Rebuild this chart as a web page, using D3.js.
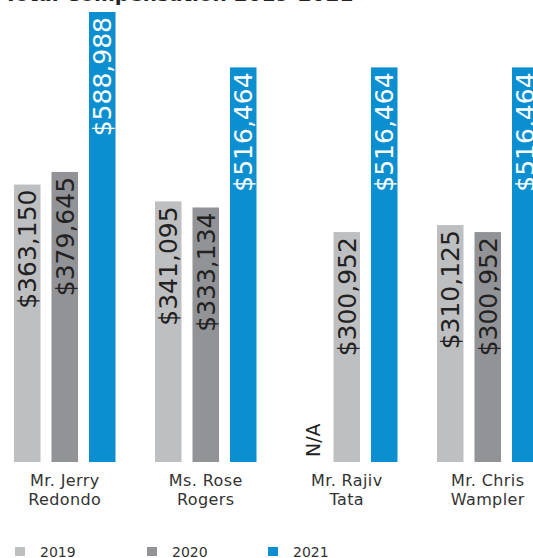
<!DOCTYPE html>
<html>
<head>
<meta charset="utf-8">
<script src="https://cdn.jsdelivr.net/npm/d3@7"></script>
<style>
  html, body { margin: 0; padding: 0; background: #ffffff; }
  svg { display: block; }
</style>
</head>
<body>
<svg id="chart" width="533" height="558"></svg>
<script>
// ---- data ----
const title = "Total Compensation 2019-2021";
const categories = ["Mr. Jerry Redondo", "Ms. Rose Rogers", "Mr. Rajiv Tata", "Mr. Chris Wampler"];
const categoryLines = [["Mr. Jerry", "Redondo"], ["Ms. Rose", "Rogers"], ["Mr. Rajiv", "Tata"], ["Mr. Chris", "Wampler"]];
const years = ["2019", "2020", "2021"];
const values2019 = [363150, 341095, null, 310125];
const values2020 = [379645, 333134, 300952, 300952];
const values2021 = [588988, 516464, 516464, 516464];
const missingLabel = "N/A";

// ---- layout ----
const svg = d3.select("#chart");
const baseY = 462, topY = 12;
const font = "'DejaVu Sans', Verdana, sans-serif";
const colors = { "2019": "#bebfc1", "2020": "#929396", "2021": "#0b8fd0" };

const series = [values2019, values2020, values2021];
const rows = categories.map((c, i) => ({
  cat: c, lines: categoryLines[i],
  bars: years.map((y, j) => ({ year: y, value: series[j][i], cat: c, prevMissing: j > 0 && series[j - 1][i] == null }))
}));

const x0 = d3.scaleBand().domain(categories).range([14, 538.5]).paddingInner(0.28).paddingOuter(0);
const x1 = d3.scaleBand().domain(years).range([0, x0.bandwidth()]).paddingInner(0.293).paddingOuter(0);
const maxV = d3.max(series.flat());
const y = d3.scaleLinear().domain([0, maxV]).range([baseY, topY]);

const fmt = v => "$" + d3.format(",")(v);

// title (cropped at top of the frame)
svg.append("text")
  .attr("x", 4).attr("y", 1)
  .attr("font-family", font).attr("font-weight", "bold").attr("font-size", 20)
  .attr("fill", "#222").text(title);

const g = svg.selectAll("g.grp").data(rows).join("g")
  .attr("class", "grp")
  .attr("transform", d => `translate(${x0(d.cat)},0)`);

// bars
g.selectAll("rect").data(d => d.bars.filter(b => b.value != null)).join("rect")
  .attr("x", d => x1(d.year))
  .attr("y", d => y(d.value))
  .attr("width", x1.bandwidth())
  .attr("height", d => baseY - y(d.value))
  .attr("fill", d => (d.prevMissing && d.year === "2020") ? colors["2019"] : colors[d.year]);

// value labels (rotated)
g.selectAll("text.val").data(d => d.bars.filter(b => b.value != null)).join("text")
  .attr("class", "val")
  .attr("transform", d => `translate(${x1(d.year) + x1.bandwidth() / 2},${y(d.value) + 5}) rotate(-90)`)
  .attr("text-anchor", "end")
  .attr("dy", "0.36em")
  .attr("font-family", font).attr("font-size", 25)
  .attr("fill", d => d.year === "2021" ? "#ffffff" : "#222222")
  .text(d => fmt(d.value));

// N/A labels
g.selectAll("text.na").data(d => d.bars.filter(b => b.value == null)).join("text")
  .attr("class", "na")
  .attr("transform", d => `translate(${x1(d.year) + x1.bandwidth() / 2 + 4},${baseY - 5}) rotate(-90)`)
  .attr("text-anchor", "start")
  .attr("dy", "0.36em")
  .attr("font-family", font).attr("font-size", 19)
  .attr("fill", "#222222")
  .text(missingLabel);

// category labels
g.each(function (d) {
  const t = d3.select(this).append("text")
    .attr("text-anchor", "middle")
    .attr("font-family", font).attr("font-size", 16)
    .attr("letter-spacing", 0.4)
    .attr("fill", "#333333");
  d.lines.forEach((ln, k) => {
    t.append("tspan").attr("x", x0.bandwidth() / 2).attr("y", 486 + k * 19).text(ln);
  });
});

// legend
const legendX = [15, 147, 268];
const lg = svg.selectAll("g.leg").data(years).join("g")
  .attr("class", "leg")
  .attr("transform", (d, i) => `translate(${legendX[i]},547)`);
lg.append("rect").attr("width", 10).attr("height", 9).attr("fill", d => colors[d]);
lg.append("text").attr("x", 25).attr("y", 9.5)
  .attr("font-family", font).attr("font-size", 14)
  .attr("fill", "#333333").text(d => d);
</script>
</body>
</html>
